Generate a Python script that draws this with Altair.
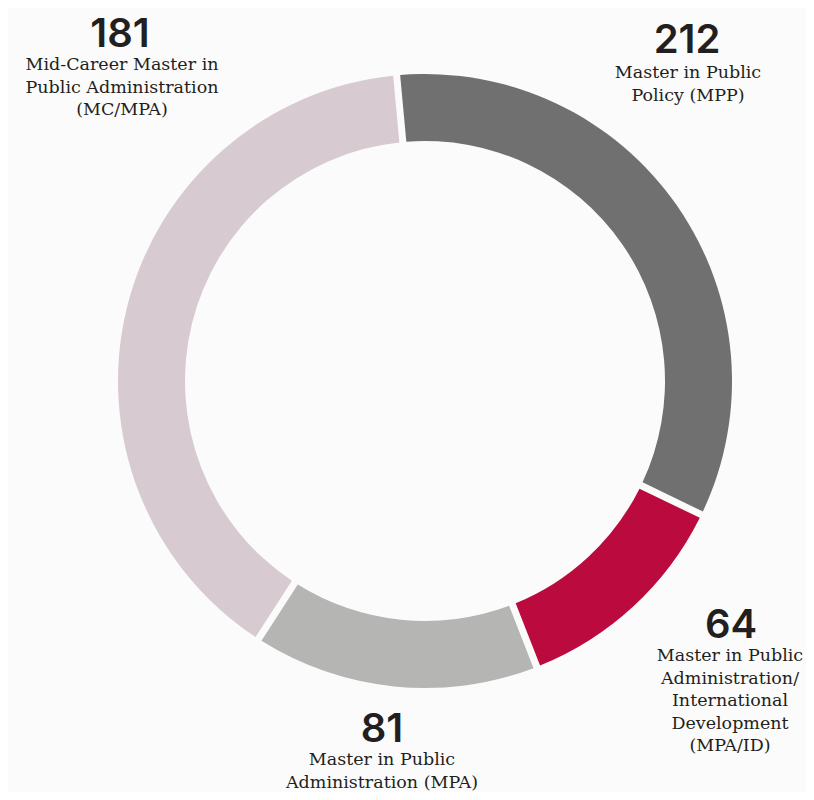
import altair as alt
import pandas as pd

# Slices as drawn, clockwise from just left of 12 o'clock
slice_keys = ["dark", "red", "lightgray", "pink"]
slice_values = [181, 64, 81, 212]
slice_colors = ["#707070", "#ba0a3e", "#b5b5b4", "#d7cad0"]

# Annotations
label_counts = ["212", "64", "81", "181"]
label_names = [
    "Master in Public\nPolicy (MPP)",
    "Master in Public\nAdministration/\nInternational\nDevelopment\n(MPA/ID)",
    "Master in Public\nAdministration (MPA)",
    "Mid-Career Master in\nPublic Administration\n(MC/MPA)",
]

# Layout (chart pixel coordinates)
W, H = 798, 784
CX, CY = 417, 373
R_OUT, R_IN = 307, 240
START = -0.0925
TWO_PI = 6.283185307
count_x = [679, 723, 374, 112]
count_y = [33, 618, 722, 27]
name_x = [680, 722, 374, 114]
name_y = [65, 648, 752, 57]

slices = pd.DataFrame({
    "key": slice_keys,
    "value": slice_values,
    "order": list(range(len(slice_values))),
})

labels = pd.DataFrame({
    "count": label_counts,
    "name": label_names,
    "cx": count_x,
    "cy": count_y,
    "nx": name_x,
    "ny": name_y,
})

donut = alt.Chart(slices).mark_arc(
    outerRadius=R_OUT, innerRadius=R_IN, padAngle=0.018
).encode(
    theta=alt.Theta("value:Q", stack=True, scale=alt.Scale(range=[START, START + TWO_PI])),
    color=alt.Color("key:N", scale=alt.Scale(domain=slice_keys, range=slice_colors), legend=None),
    order=alt.Order("order:Q"),
    x=alt.value(CX),
    y=alt.value(CY),
)

counts = alt.Chart(labels).mark_text(
    font="Inter", fontSize=40, fontWeight=600, color="#231f20", align="center", baseline="middle"
).encode(
    x=alt.X("cx:Q", scale=None),
    y=alt.Y("cy:Q", scale=None),
    text="count:N",
)

names = alt.Chart(labels).mark_text(
    font="DejaVu Serif", fontSize=17.5, color="#231f20", align="center", baseline="middle",
    lineBreak="\n", lineHeight=22.5,
).encode(
    x=alt.X("nx:Q", scale=None),
    y=alt.Y("ny:Q", scale=None),
    text="name:N",
)

chart = alt.layer(donut, counts, names).properties(
    width=W, height=H, padding=0,
    autosize=alt.AutoSizeParams(type="none"),
    background="#fbfbfb",
).configure_view(stroke=None)

chart.save("out.html", embed_options={"renderer": "svg", "actions": False})
